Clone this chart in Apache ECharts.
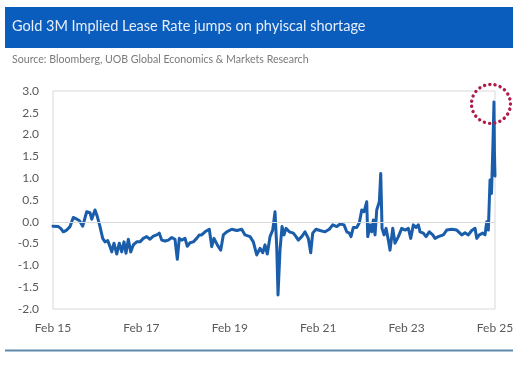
<!DOCTYPE html>
<html>
<head>
<meta charset="utf-8">
<script src="https://cdn.jsdelivr.net/npm/echarts@6/dist/echarts.min.js"></script>
<style>
html,body{margin:0;padding:0;background:#fff;}
#c{width:531px;height:365px;}
</style>
</head>
<body>
<div id="c"></div>
<script>
// Months since Feb 2015
const monthsSinceFeb15 = [
  0,0.54,1.44,2.09,2.8,3.72,4.62,5.51,6.43,7.14,8.06,9.15,10.05,10.51,11.4,12.03,12.76,13.49,14.12,14.85,
  15.48,15.94,16.56,17.3,18.0,18.65,19.28,19.82,20.45,21.1,21.8,22.73,23.62,24.52,25.44,26.34,27.23,28.16,28.86,29.51,
  30.41,31.31,32.23,33.12,33.75,34.29,34.94,35.84,36.46,37.2,38.09,39.02,39.72,40.37,41.27,42.44,43.09,43.71,44.61,45.53,
  46.24,47.16,48.52,49.88,51.24,52.13,53.49,54.39,55.31,56.2,56.94,57.56,58.19,58.92,59.65,60.28,60.74,61.09,61.63,62.18,
  62.72,63.26,64.16,65.25,65.98,66.6,67.53,68.42,69.32,69.97,70.51,71.41,72.5,73.85,75.02,75.94,77.03,77.93,79.01,79.75,
  80.45,80.91,81.54,82.46,83.17,83.82,84.44,85.18,85.45,86.07,86.53,86.97,87.43,87.89,88.6,88.98,89.33,89.87,90.42,91.04,
  91.5,92.24,92.86,93.76,94.68,95.58,96.47,97.12,97.83,98.56,99.19,99.65,100.54,101.28,102.17,103.1,103.72,104.62,105.97,106.9,
  108.25,109.61,110.97,111.86,112.76,113.68,114.58,115.04,115.75,116.67,117.29,117.76,118.19,118.65,119.05,119.45,119.72,119.85,120
];
// Gold 3M implied lease rate (%)
const leaseRate = [
  -0.1,-0.06,-0.11,-0.15,-0.23,-0.19,-0.11,0.1,0.06,0.03,-0.1,0.23,0.21,0.06,0.27,0.12,-0.11,-0.38,-0.46,-0.43,
  -0.57,-0.69,-0.49,-0.74,-0.49,-0.69,-0.46,-0.72,-0.4,-0.69,-0.53,-0.46,-0.46,-0.38,-0.34,-0.4,-0.33,-0.3,-0.26,-0.42,
  -0.44,-0.42,-0.36,-0.4,-0.86,-0.38,-0.42,-0.38,-0.56,-0.48,-0.46,-0.38,-0.3,-0.3,-0.23,-0.17,-0.57,-0.38,-0.53,-0.65,
  -0.3,-0.23,-0.17,-0.2,-0.17,-0.3,-0.34,-0.46,-0.76,-0.61,-0.71,-0.53,-0.74,-0.34,-0.19,0.23,-0.57,-1.68,-0.65,-0.11,
  -0.3,-0.15,-0.23,-0.26,-0.34,-0.42,-0.34,-0.23,-0.38,-0.71,-0.26,-0.17,-0.2,-0.23,-0.17,-0.07,-0.11,-0.05,-0.07,-0.23,
  -0.26,-0.34,-0.13,-0.13,-0.02,0.27,0.23,0.46,-0.34,-0.07,-0.23,0.04,-0.3,0.27,0.46,1.11,-0.15,-0.3,-0.15,-0.42,
  -0.65,-0.15,-0.49,-0.34,-0.15,-0.19,-0.15,-0.38,-0.07,-0.13,-0.07,-0.23,-0.26,-0.34,-0.23,-0.3,-0.38,-0.34,-0.3,-0.19,
  -0.17,-0.19,-0.3,-0.25,-0.3,-0.2,-0.15,-0.38,-0.3,-0.26,-0.3,0.0,-0.19,0.96,0.65,1.81,2.75,1.6,1.05
];
const yTicks = [-2.0,-1.5,-1.0,-0.5,0.0,0.5,1.0,1.5,2.0,2.5,3.0];
const xTickLabels = ['Feb 15','Feb 17','Feb 19','Feb 21','Feb 23','Feb 25'];
const titleText = 'Gold 3M Implied Lease Rate jumps on phyiscal shortage';
const sourceText = 'Source: Bloomberg, UOB Global Economics & Markets Research';

const points = monthsSinceFeb15.map((m, i) => [m, leaseRate[i]]);
const chart = echarts.init(document.getElementById('c'), null, {renderer: 'canvas'});
const FONT = 'Lato, "Open Sans", sans-serif';

const baseGraphics = [
  {type: 'rect', left: 5, top: 7, shape: {width: 508, height: 41}, style: {fill: '#0b5dbd'}},
  {type: 'text', left: 12, top: 19, style: {text: titleText, fill: '#e6eefa', font: '14.5px ' + FONT}},
  {type: 'text', left: 12, top: 54, style: {text: sourceText, fill: '#7a7a7a', font: '10.6px ' + FONT}},
  {type: 'rect', left: 5, top: 349.5, shape: {width: 508, height: 2}, style: {fill: '#5e8aab'}}
];

chart.setOption({
  animation: false,
  backgroundColor: '#ffffff',
  grid: {left: 53, top: 91, width: 442, height: 218, show: true, borderColor: '#d9d9d9', borderWidth: 1, backgroundColor: 'transparent'},
  xAxis: {
    type: 'value', min: 0, max: 120, interval: 24,
    axisLine: {show: false}, axisTick: {show: false}, splitLine: {show: false},
    axisLabel: {color: '#595959', fontSize: 12, fontFamily: FONT, margin: 13,
      formatter: v => xTickLabels[Math.round(v / 24)] || ''}
  },
  yAxis: {
    type: 'value', min: yTicks[0], max: yTicks[yTicks.length - 1], interval: 0.5,
    axisLine: {show: false}, axisTick: {show: false}, splitLine: {show: false},
    axisLabel: {color: '#595959', fontSize: 12, fontFamily: FONT, margin: 14,
      formatter: v => v.toFixed(1)}
  },
  series: [{
    type: 'line', data: points, showSymbol: false, symbol: 'none',
    lineStyle: {color: '#1a5daa', width: 3, join: 'round', cap: 'round'},
    markLine: {
      silent: true, symbol: 'none', label: {show: false},
      lineStyle: {color: '#d9d9d9', width: 1, type: 'solid'},
      data: [{yAxis: 0}]
    },
    z: 3
  }],
  graphic: baseGraphics
});

// Dotted circle annotation around the peak
const peakIdx = leaseRate.indexOf(Math.max(...leaseRate));
const pk = chart.convertToPixel({gridIndex: 0}, points[peakIdx]);
chart.setOption({
  graphic: baseGraphics.concat([
    {type: 'circle', shape: {cx: pk[0] - 3, cy: pk[1] + 2, r: 19.5},
      style: {fill: 'none', stroke: '#b01c48', lineWidth: 3.4, lineDash: [0.1, 5.2], lineCap: 'round'}, z: 10}
  ])
});
</script>
</body>
</html>
